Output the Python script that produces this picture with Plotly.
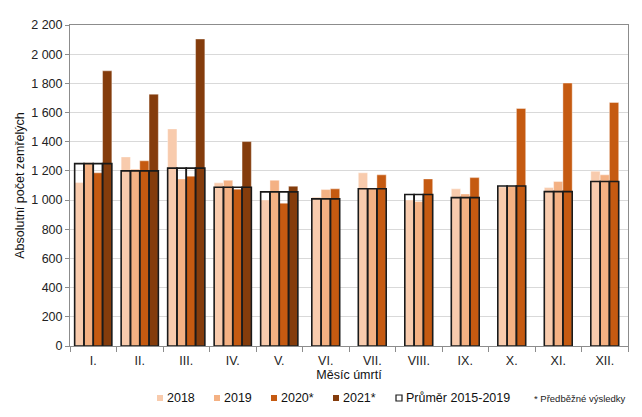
import plotly.graph_objects as go

months = ["I.", "II.", "III.", "IV.", "V.", "VI.", "VII.", "VIII.", "IX.", "X.", "XI.", "XII."]
v2018 = [1120, 1296, 1488, 1118, 1001, 1020, 1187, 1001, 1077, 1090, 1086, 1198]
v2019 = [1256, 1212, 1145, 1136, 1136, 1072, 1078, 990, 1042, 1095, 1127, 1173]
v2020 = [1187, 1269, 1164, 1075, 979, 1077, 1173, 1145, 1154, 1628, 1802, 1669]
v2021 = [1886, 1726, 2104, 1401, 1095, None, None, None, None, None, None, None]
avg = [1250, 1200, 1219, 1088, 1056, 1008, 1078, 1038, 1017, 1097, 1058, 1127]

series = [("2018", v2018, "#F8CBAD"), ("2019", v2019, "#F4B183"),
          ("2020*", v2020, "#C55A11"), ("2021*", v2021, "#843C0C")]
avg_name = "Průměr 2015-2019"
note = "* Předběžné výsledky"

BW = 0.2
font = "Liberation Sans, Arial, sans-serif"

W, H = 642, 417
ML, MR, MT, MB = 70, 14, 25, 71
PW, PH = W - ML - MR, H - MT - MB

def px(x):
    return (x - ML) / PW

def py(y):
    return (H - MB - y) / PH

nslots = [sum(1 for _, v, _ in series if v[i] is not None) for i in range(len(months))]

def pos(i, j):
    n = nslots[i]
    return i + (j - (n - 1) / 2) * BW

fig = go.Figure()
for j, (name, vals, col) in enumerate(series):
    xs, ys = [], []
    for i, v in enumerate(vals):
        if v is not None:
            xs.append(pos(i, j))
            ys.append(v)
    fig.add_trace(go.Bar(x=xs, y=ys, name=name, width=BW,
                         marker=dict(color=col, line=dict(color="rgba(255,255,255,0.5)", width=0.8))))

ax, ay = [], []
for i in range(len(months)):
    for j in range(nslots[i]):
        ax.append(pos(i, j))
        ay.append(avg[i])
fig.add_trace(go.Bar(x=ax, y=ay, name=avg_name, width=BW,
                     marker=dict(color="rgba(255,255,255,0)", line=dict(color="#1a1a1a", width=1.6))))

# manual legend (layout decoration)
legend_items = [(s[0], s[2], None) for s in series] + [(avg_name, "white", "#1a1a1a")]
sq_left = [157, 214, 271, 333, 396]
shapes, annots = [], []
LY = 398
for (name, col, lc), x0 in zip(legend_items, sq_left):
    shapes.append(dict(type="rect", xref="paper", yref="paper",
                       x0=px(x0), x1=px(x0 + 6), y0=py(LY + 3), y1=py(LY - 3),
                       fillcolor=col, line=dict(color=lc if lc else col, width=1.2 if lc else 0)))
    annots.append(dict(text=name, xref="paper", yref="paper", x=px(x0 + 7.5), y=py(LY),
                       xanchor="left", yanchor="middle", showarrow=False,
                       font=dict(size=12.5, color="#111")))
annots.append(dict(text=note, xref="paper", yref="paper", x=px(628), y=py(LY + 1),
                   xanchor="right", yanchor="middle", showarrow=False,
                   font=dict(size=9.5, color="#222")))

fig.update_layout(
    width=W, height=H, barmode="overlay",
    paper_bgcolor="white", plot_bgcolor="white",
    margin=dict(l=ML, r=MR, t=MT, b=MB, autoexpand=False),
    font=dict(family=font, size=12, color="#222"),
    separators=", ",
    showlegend=False,
    shapes=shapes, annotations=annots,
)
fig.update_xaxes(
    range=[-0.5, len(months) - 0.5],
    tickmode="array", tickvals=list(range(len(months))), ticktext=months,
    ticks="", showline=True, linecolor="#8c8c8c", linewidth=1, mirror=True,
    showgrid=False, zeroline=False, tickfont=dict(size=12.5, color="#222"),
    ticklabelstandoff=3,
    minor=dict(ticks="outside", tick0=0.5, dtick=1, ticklen=5, tickcolor="#8c8c8c", showgrid=False),
    title=dict(text="Měsíc úmrtí", font=dict(size=12.5, color="#111"), standoff=3),
)
fig.update_yaxes(
    range=[0, 2200], tickmode="linear", tick0=0, dtick=200, tickformat=",d",
    ticks="outside", ticklen=4, tickcolor="#8c8c8c",
    showline=True, linecolor="#8c8c8c", linewidth=1, mirror=True,
    showgrid=True, gridcolor="#D9D9D9", gridwidth=1.2, zeroline=False,
    tickfont=dict(size=12.5, color="#222"),
    title=dict(text="Absolutní počet zemřelých", font=dict(size=12.5, color="#111"), standoff=3),
)

fig.write_html("out.html")
